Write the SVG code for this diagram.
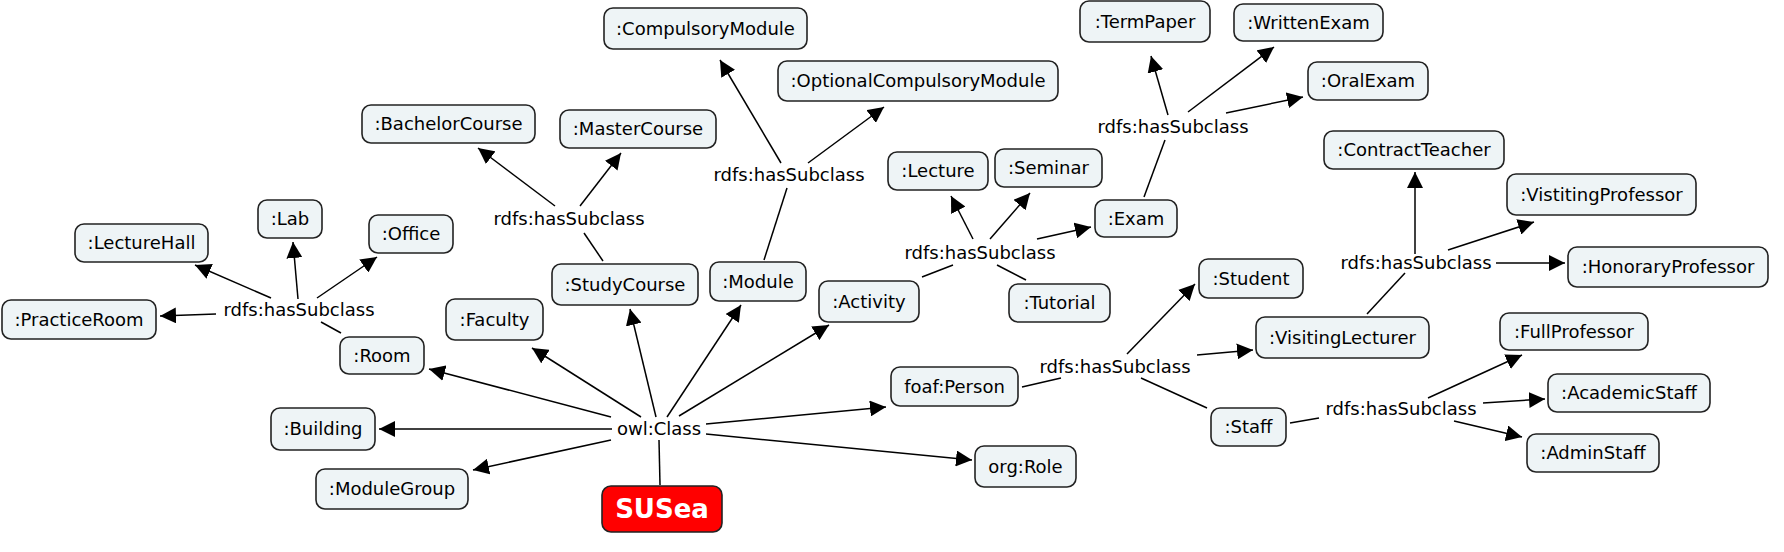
<svg xmlns="http://www.w3.org/2000/svg" width="1784" height="552" viewBox="0 0 1784 552">
<defs>
<marker id="arr" viewBox="0 0 16 16" refX="16" refY="8" markerWidth="16" markerHeight="16" markerUnits="userSpaceOnUse" orient="auto">
<path d="M0,0 L16,8 L0,16 z" fill="#000"/>
</marker>
<style>
.n rect{fill:#EEF4F6;stroke:#222;stroke-width:1.6}
.n text{font-family:"DejaVu Sans",Verdana,sans-serif;font-size:18px;fill:#000;text-anchor:middle}
.l text{font-family:"DejaVu Sans",Verdana,sans-serif;font-size:18px;fill:#000;text-anchor:middle}
.c line{stroke:#000;stroke-width:1.5}
.c line.a{marker-end:url(#arr)}
#SUSea rect{fill:#FF0000;stroke:#222;stroke-width:1.6}
#SUSea text{font-family:"DejaVu Sans",Verdana,sans-serif;font-size:26px;font-weight:bold;fill:#fff;text-anchor:middle}
</style>
</defs>
<rect width="1784" height="552" fill="#fff"/>
<g id="connectors" class="c">
<line class="a" x1="611" y1="417" x2="429" y2="369"/>
<line class="a" x1="641" y1="417" x2="532" y2="348"/>
<line class="a" x1="612" y1="429" x2="379" y2="429"/>
<line class="a" x1="611" y1="440" x2="473" y2="470"/>
<line class="a" x1="656" y1="417" x2="630" y2="309"/>
<line class="a" x1="667" y1="417" x2="741" y2="305"/>
<line class="a" x1="679" y1="416" x2="829" y2="325"/>
<line class="a" x1="706" y1="424" x2="886" y2="407"/>
<line class="a" x1="706" y1="434" x2="972" y2="460"/>
<line x1="659" y1="440" x2="660" y2="485"/>
<line x1="341" y1="333" x2="321" y2="322"/>
<line class="a" x1="216" y1="314" x2="160" y2="316"/>
<line class="a" x1="271" y1="298" x2="195" y2="265"/>
<line class="a" x1="298" y1="299" x2="293" y2="242"/>
<line class="a" x1="317" y1="298" x2="377" y2="257"/>
<line x1="603" y1="261" x2="584" y2="233"/>
<line class="a" x1="555" y1="206" x2="478" y2="148"/>
<line class="a" x1="580" y1="206" x2="621" y2="153"/>
<line x1="764" y1="260" x2="787" y2="188"/>
<line class="a" x1="781" y1="163" x2="720" y2="60"/>
<line class="a" x1="808" y1="163" x2="884" y2="107"/>
<line x1="922" y1="277" x2="953" y2="265"/>
<line x1="997" y1="265" x2="1026" y2="280"/>
<line class="a" x1="973" y1="239" x2="951" y2="196"/>
<line class="a" x1="990" y1="239" x2="1030" y2="193"/>
<line class="a" x1="1037" y1="239" x2="1091" y2="227"/>
<line x1="1144" y1="197" x2="1165" y2="140"/>
<line class="a" x1="1168" y1="115" x2="1151" y2="56"/>
<line class="a" x1="1188" y1="112" x2="1274" y2="47"/>
<line class="a" x1="1226" y1="113" x2="1303" y2="97"/>
<line x1="1367" y1="314" x2="1405" y2="273"/>
<line class="a" x1="1415" y1="254" x2="1415" y2="172"/>
<line class="a" x1="1448" y1="250" x2="1534" y2="222"/>
<line class="a" x1="1496" y1="263" x2="1565" y2="263"/>
<line x1="1022" y1="387" x2="1061" y2="378"/>
<line x1="1141" y1="378" x2="1207" y2="408"/>
<line class="a" x1="1127" y1="354" x2="1195" y2="284"/>
<line class="a" x1="1197" y1="355" x2="1253" y2="350"/>
<line x1="1290" y1="423" x2="1319" y2="418"/>
<line class="a" x1="1428" y1="398" x2="1522" y2="355"/>
<line class="a" x1="1483" y1="403" x2="1545" y2="399"/>
<line class="a" x1="1454" y1="421" x2="1522" y2="437"/>
</g>
<g id="labels" class="l">
<text x="659" y="435">owl:Class</text>
<text x="299" y="316">rdfs:hasSubclass</text>
<text x="569" y="225">rdfs:hasSubclass</text>
<text x="789" y="181">rdfs:hasSubclass</text>
<text x="980" y="259">rdfs:hasSubclass</text>
<text x="1173" y="133">rdfs:hasSubclass</text>
<text x="1416" y="269">rdfs:hasSubclass</text>
<text x="1115" y="373">rdfs:hasSubclass</text>
<text x="1401" y="415">rdfs:hasSubclass</text>
</g>
<g id="CompulsoryModule" class="n"><rect x="604" y="8" width="203" height="41" rx="9"/><text x="705.5" y="34.5">:CompulsoryModule</text></g>
<g id="OptionalCompulsoryModule" class="n"><rect x="778" y="61" width="280" height="40" rx="9"/><text x="918" y="87">:OptionalCompulsoryModule</text></g>
<g id="TermPaper" class="n"><rect x="1080" y="1" width="130" height="41" rx="9"/><text x="1145" y="27.5">:TermPaper</text></g>
<g id="WrittenExam" class="n"><rect x="1234" y="4" width="149" height="37" rx="9"/><text x="1308.5" y="28.5">:WrittenExam</text></g>
<g id="OralExam" class="n"><rect x="1308" y="62" width="120" height="38" rx="9"/><text x="1368" y="87">:OralExam</text></g>
<g id="BachelorCourse" class="n"><rect x="362" y="105" width="173" height="38" rx="9"/><text x="448.5" y="130">:BachelorCourse</text></g>
<g id="MasterCourse" class="n"><rect x="560" y="110" width="156" height="38" rx="9"/><text x="638" y="135">:MasterCourse</text></g>
<g id="Lecture" class="n"><rect x="888" y="152" width="100" height="38" rx="9"/><text x="938" y="177">:Lecture</text></g>
<g id="Seminar" class="n"><rect x="995" y="149" width="107" height="38" rx="9"/><text x="1048.5" y="174">:Seminar</text></g>
<g id="ContractTeacher" class="n"><rect x="1324" y="131" width="180" height="38" rx="9"/><text x="1414" y="156">:ContractTeacher</text></g>
<g id="VistitingProfessor" class="n"><rect x="1507" y="174" width="189" height="41" rx="9"/><text x="1601.5" y="200.5">:VistitingProfessor</text></g>
<g id="Lab" class="n"><rect x="258" y="200" width="64" height="38" rx="9"/><text x="290" y="225">:Lab</text></g>
<g id="Office" class="n"><rect x="369" y="215" width="84" height="38" rx="9"/><text x="411" y="240">:Office</text></g>
<g id="LectureHall" class="n"><rect x="75" y="224" width="133" height="38" rx="9"/><text x="141.5" y="249">:LectureHall</text></g>
<g id="Exam" class="n"><rect x="1095" y="200" width="82" height="37" rx="9"/><text x="1136" y="224.5">:Exam</text></g>
<g id="HonoraryProfessor" class="n"><rect x="1568" y="247" width="200" height="40" rx="9"/><text x="1668" y="273">:HonoraryProfessor</text></g>
<g id="StudyCourse" class="n"><rect x="552" y="264" width="146" height="41" rx="9"/><text x="625" y="290.5">:StudyCourse</text></g>
<g id="Module" class="n"><rect x="710" y="262" width="96" height="39" rx="9"/><text x="758" y="287.5">:Module</text></g>
<g id="Activity" class="n"><rect x="819" y="281" width="100" height="41" rx="9"/><text x="869" y="307.5">:Activity</text></g>
<g id="Tutorial" class="n"><rect x="1009" y="284" width="101" height="38" rx="9"/><text x="1059.5" y="309">:Tutorial</text></g>
<g id="Student" class="n"><rect x="1199" y="259" width="104" height="39" rx="9"/><text x="1251" y="284.5">:Student</text></g>
<g id="PracticeRoom" class="n"><rect x="2" y="300" width="154" height="39" rx="9"/><text x="79" y="325.5">:PracticeRoom</text></g>
<g id="Faculty" class="n"><rect x="446" y="299" width="97" height="41" rx="9"/><text x="494.5" y="325.5">:Faculty</text></g>
<g id="Room" class="n"><rect x="340" y="337" width="84" height="37" rx="9"/><text x="382" y="361.5">:Room</text></g>
<g id="VisitingLecturer" class="n"><rect x="1256" y="317" width="173" height="41" rx="9"/><text x="1342.5" y="343.5">:VisitingLecturer</text></g>
<g id="FullProfessor" class="n"><rect x="1500" y="313" width="148" height="37" rx="9"/><text x="1574" y="337.5">:FullProfessor</text></g>
<g id="Person" class="n"><rect x="891" y="367" width="127" height="39" rx="9"/><text x="954.5" y="392.5">foaf:Person</text></g>
<g id="AcademicStaff" class="n"><rect x="1548" y="374" width="162" height="38" rx="9"/><text x="1629" y="399">:AcademicStaff</text></g>
<g id="Staff" class="n"><rect x="1211" y="408" width="75" height="38" rx="9"/><text x="1248.5" y="433">:Staff</text></g>
<g id="AdminStaff" class="n"><rect x="1527" y="434" width="132" height="38" rx="9"/><text x="1593" y="459">:AdminStaff</text></g>
<g id="Building" class="n"><rect x="271" y="408" width="104" height="42" rx="9"/><text x="323" y="435">:Building</text></g>
<g id="ModuleGroup" class="n"><rect x="316" y="469" width="152" height="40" rx="9"/><text x="392" y="495">:ModuleGroup</text></g>
<g id="Role" class="n"><rect x="975" y="446" width="101" height="41" rx="9"/><text x="1025.5" y="472.5">org:Role</text></g>
<g id="SUSea"><rect x="602" y="486" width="120" height="46" rx="9"/><text x="662" y="518">SUSea</text></g>
</svg>
